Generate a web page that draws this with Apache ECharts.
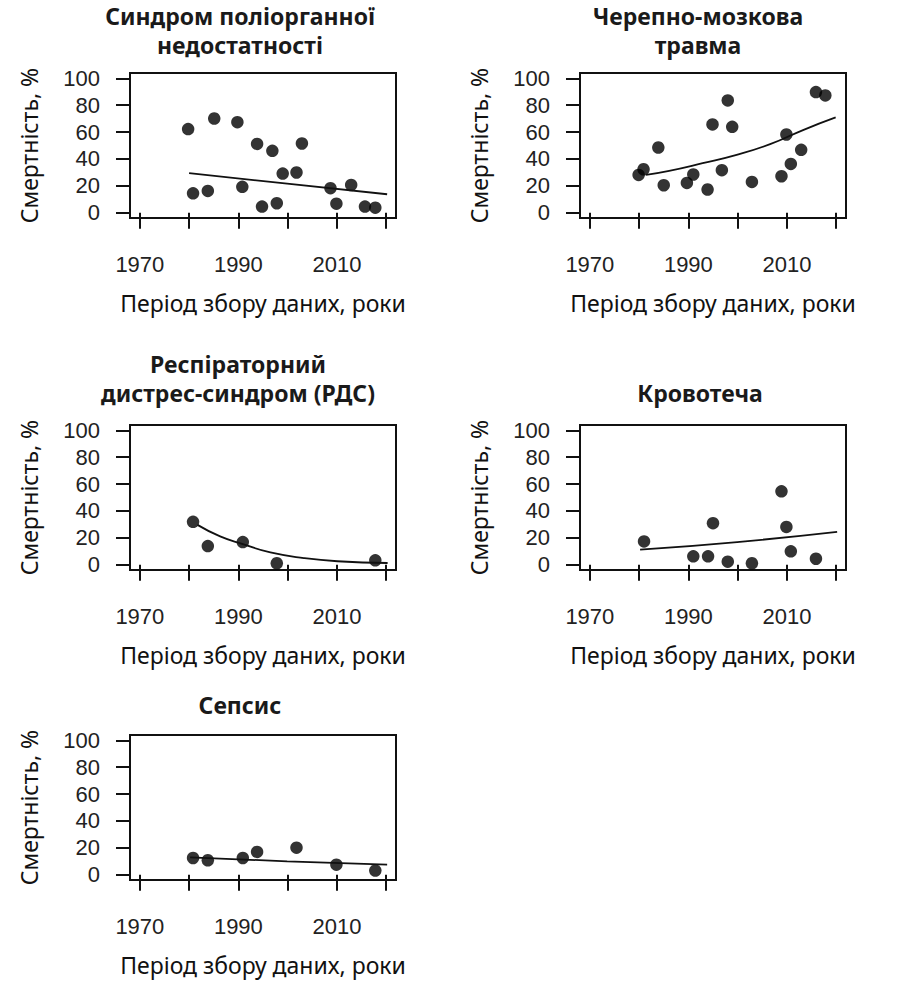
<!DOCTYPE html>
<html>
<head>
<meta charset="utf-8">
<script src="https://cdn.jsdelivr.net/npm/echarts@6/dist/echarts.min.js"></script>
<style>
html,body{margin:0;padding:0;background:#fff;}
#chart{width:900px;height:982px;}
</style>
</head>
<body>
<div id="chart"></div>
<script>
// ---- Axis ticks / labels ----
const xTicks = [1970, 1980, 1990, 2000, 2010, 2020];
const xTickLabels = [1970, 1990, 2010];
const yTicks = [0, 20, 40, 60, 80, 100];
const yAxisTitle = 'Смертність, %';
const xAxisTitle = 'Період збору даних, роки';

// ---- Panel titles ----
const titles = [
  ['Синдром поліорганної', 'недостатності'],
  ['Черепно-мозкова', 'травма'],
  ['Респіраторний', 'дистрес-синдром (РДС)'],
  ['Кровотеча'],
  ['Сепсис']
];

// ---- Синдром поліорганної недостатності ----
const mofYears = [1979.8, 1985.1, 1989.8, 1993.8, 1996.9, 2002.9, 1999.0, 2001.8, 1980.8, 1983.8, 1990.8, 1994.8, 1997.8, 2008.7, 2012.9, 2009.9, 2015.7, 2017.8];
const mofMortality = [62.2, 70.1, 67.4, 51.2, 46.0, 51.5, 29.1, 29.9, 14.4, 16.2, 19.2, 4.5, 7.0, 18.2, 20.6, 6.7, 4.5, 3.7];
const mofFitYears = [1980.0, 1999.9, 2020.2];
const mofFitValues = [29.4, 21.6, 13.7];

// ---- Черепно-мозкова травма ----
const tbiYears = [1979.9, 1980.9, 1983.9, 1985.0, 1989.7, 1991.0, 1993.9, 1994.9, 1996.8, 1998.0, 1998.9, 2002.9, 2008.9, 2009.9, 2010.8, 2012.9, 2015.9, 2017.8];
const tbiMortality = [28.1, 32.3, 48.5, 20.4, 22.1, 28.4, 17.2, 65.7, 31.6, 83.6, 63.9, 22.9, 27.1, 58.2, 36.3, 46.8, 89.8, 87.3];
const tbiFitYears = [1981.4, 1986.1, 1992.9, 1999.8, 2006.6, 2013.4, 2019.9];
const tbiFitValues = [28.1, 31.1, 36.8, 43.0, 51.0, 61.7, 70.9];

// ---- РДС ----
const ardsYears = [1980.8, 1983.8, 1990.9, 1997.8, 2017.8];
const ardsMortality = [31.9, 13.8, 16.8, 1.0, 3.2];
const ardsFitYears = [1981.7, 1986.3, 1990.9, 1996.5, 2003.3, 2010.1, 2020.3];
const ardsFitValues = [29.6, 21.0, 15.3, 9.1, 4.9, 2.5, 1.2];

// ---- Кровотеча ----
const bleedYears = [1981.0, 1991.0, 1994.0, 1995.0, 1998.0, 2002.9, 2008.9, 2009.9, 2010.8, 2015.9];
const bleedMortality = [17.3, 6.2, 6.2, 30.9, 2.2, 1.0, 54.6, 28.1, 9.9, 4.4];
const bleedFitYears = [1980.2, 1999.9, 2020.2];
const bleedFitValues = [11.1, 16.8, 24.4];

// ---- Сепсис ----
const sepsisYears = [1980.8, 1983.8, 1990.9, 1993.8, 2001.8, 2009.9, 2017.8];
const sepsisMortality = [12.4, 10.7, 12.4, 16.9, 20.1, 7.4, 3.0];
const sepsisFitYears = [1980.2, 1999.9, 2020.2];
const sepsisFitValues = [12.9, 9.9, 7.4];

// ---- layout ----
const panels = [
  {x: mofYears, y: mofMortality, fx: mofFitYears, fy: mofFitValues, smooth: false, left: 130, top: 73, titleX: 240, titleY: [16, 45]},
  {x: tbiYears, y: tbiMortality, fx: tbiFitYears, fy: tbiFitValues, smooth: true, left: 580, top: 73, titleX: 698, titleY: [16, 45]},
  {x: ardsYears, y: ardsMortality, fx: ardsFitYears, fy: ardsFitValues, smooth: true, left: 130, top: 425, titleX: 238, titleY: [364, 393]},
  {x: bleedYears, y: bleedMortality, fx: bleedFitYears, fy: bleedFitValues, smooth: true, left: 580, top: 425, titleX: 700, titleY: [393]},
  {x: sepsisYears, y: sepsisMortality, fx: sepsisFitYears, fy: sepsisFitValues, smooth: false, left: 130, top: 735, titleX: 240, titleY: [705]}
];
const W = 266, H = 145;
const cyr = '"Noto Sans", "DejaVu Sans", sans-serif';
const num = '"Liberation Sans", Arial, sans-serif';

const grid = [], xAxis = [], yAxis = [], series = [], graphic = [];
panels.forEach((p, i) => {
  grid.push({left: p.left, top: p.top, width: W, height: H, show: true,
    borderColor: '#111', borderWidth: 2, backgroundColor: 'transparent', containLabel: false});
  xAxis.push({
    type: 'value', gridIndex: i, min: 1968, max: 2022,
    axisLine: {show: false},
    splitLine: {show: false},
    axisTick: {show: true, inside: false, length: 16, customValues: xTicks, lineStyle: {color: '#111', width: 2}},
    axisLabel: {customValues: xTickLabels, margin: 35, fontSize: 22, color: '#222', fontFamily: num,
      formatter: v => String(v)},
    name: xAxisTitle, nameLocation: 'middle', nameGap: 73,
    nameTextStyle: {fontSize: 23, color: '#111', fontFamily: cyr}
  });
  yAxis.push({
    type: 'value', gridIndex: i, min: -4, max: 104,
    axisLine: {show: false},
    splitLine: {show: false},
    axisTick: {show: true, inside: false, length: 14, customValues: yTicks, lineStyle: {color: '#111', width: 2}},
    axisLabel: {customValues: yTicks, margin: 30, fontSize: 22, color: '#222', fontFamily: num,
      formatter: v => String(v)},
    name: yAxisTitle, nameLocation: 'middle', nameGap: 90, nameRotate: 90,
    nameTextStyle: {fontSize: 23, color: '#111', fontFamily: cyr}
  });
  series.push({
    type: 'scatter', xAxisIndex: i, yAxisIndex: i,
    data: p.x.map((v, k) => [v, p.y[k]]),
    symbol: 'circle', symbolSize: 12.5,
    itemStyle: {color: '#000'}, silent: true
  });
  series.push({
    type: 'line', xAxisIndex: i, yAxisIndex: i,
    data: p.fx.map((v, k) => [v, p.fy[k]]),
    smooth: p.smooth, showSymbol: false, symbol: 'none',
    lineStyle: {color: '#111', width: 1.8}, silent: true
  });
  const lines = titles[i];
  lines.forEach((t, k) => {
    graphic.push({type: 'text', x: p.titleX, y: p.titleY[k],
      style: {text: t, fill: '#1a1a1a', textAlign: 'center', textVerticalAlign: 'middle',
        font: 'bold 23px ' + cyr, lineHeight: 26}});
  });
});

const chart = echarts.init(document.getElementById('chart'), null, {renderer: 'svg'});
chart.setOption({
  animation: false,
  backgroundColor: '#fff',
  grid, xAxis, yAxis, series, graphic
});
</script>
</body>
</html>
